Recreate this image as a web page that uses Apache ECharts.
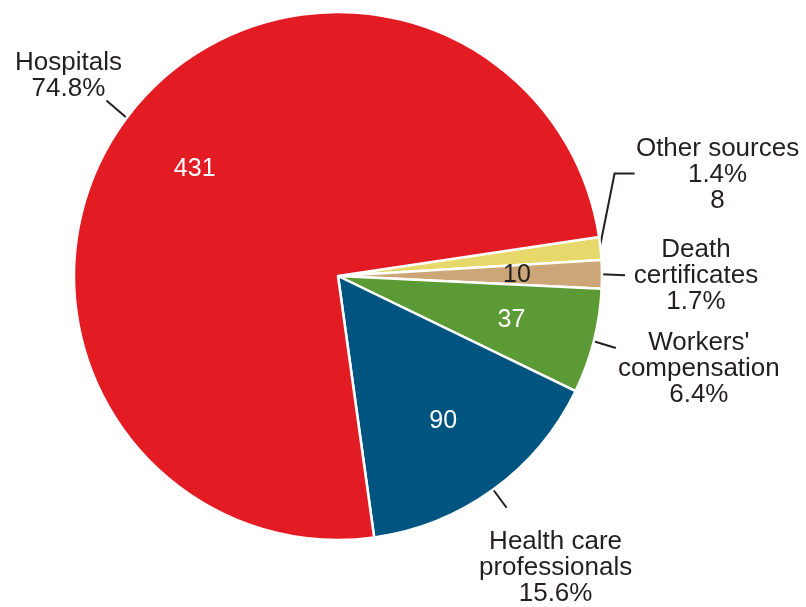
<!DOCTYPE html>
<html>
<head>
<meta charset="utf-8">
<script src="https://cdn.jsdelivr.net/npm/echarts@6/dist/echarts.min.js"></script>
<style>
html,body{margin:0;padding:0;background:#fff;}
#chart{width:806px;height:607px;}
</style>
</head>
<body>
<div id="chart"></div>
<script>
// Data (clockwise order starting from the upper right)
const categories = ['Other sources', 'Death certificates', "Workers'\ncompensation", 'Health care\nprofessionals', 'Hospitals'];
const counts = [8, 10, 37, 90, 431];
const percentLabels = ['1.4%', '1.7%', '6.4%', '15.6%', '74.8%'];
const colors = ['#E6D86B', '#CDA677', '#5C9A35', '#005580', '#E31B23'];

// Label styling/layout (offsets relative to the slice's edge point)
const outsideNames = ['Other sources', 'Death\ncertificates', "Workers'\ncompensation", 'Health care\nprofessionals', 'Hospitals'];
const labelLayouts = [
  { line: [[15, -75], [35, -75]], center: [118, -74] },
  { line: [[24, 1]], center: [95, 2] },
  { line: [[23, 7]], center: [106, 28] },
  { line: [[14, 19]], center: [63, 79] },
  { line: [[-21, -18]], center: [-59, -43] }
];

const CX = 338, CY = 276, R = 264;
const total = counts.reduce((a, b) => a + b, 0);

const outerData = categories.map((c, i) => ({
  name: c,
  value: counts[i],
  itemStyle: { color: colors[i] }
}));

const innerData = categories.map((c, i) => ({
  name: c,
  value: counts[i],
  label: {
    show: i !== 0,
    color: i === 1 ? '#231F20' : '#FFFFFF'
  }
}));

const chart = echarts.init(document.getElementById('chart'), null, { renderer: 'canvas' });

chart.setOption({
  backgroundColor: '#FFFFFF',
  animation: false,
  series: [
    {
      type: 'pie',
      center: [CX, CY],
      radius: R,
      startAngle: 8.5,
      clockwise: true,
      data: outerData,
      itemStyle: { borderColor: '#FFFFFF', borderWidth: 2.5 },
      label: {
        show: true,
        position: 'outside',
        overflow: 'none',
        alignTo: 'none',
        fontFamily: 'Liberation Sans, Arial, Helvetica, sans-serif',
        fontSize: 26,
        lineHeight: 26,
        color: '#231F20',
        formatter: function (p) {
          const i = p.dataIndex;
          let s = outsideNames[i] + '\n' + percentLabels[i];
          if (i === 0) s += '\n' + counts[i];
          return s;
        }
      },
      labelLine: {
        show: true,
        length: 20,
        length2: 10,
        lineStyle: { color: '#231F20', width: 2 }
      },
      labelLayout: function (params) {
        const i = params.dataIndex;
        const cfg = labelLayouts[i];
        let acc = 0;
        for (let k = 0; k < i; k++) acc += counts[k];
        const mid = (8.5 - (acc + counts[i] / 2) / total * 360) * Math.PI / 180;
        const p0 = [CX + (R - 1) * Math.cos(mid), CY - (R - 1) * Math.sin(mid)];
        const pts = [[p0[0], p0[1]]].concat(cfg.line.map(d => [p0[0] + d[0], p0[1] + d[1]]));
        return {
          x: p0[0] + cfg.center[0],
          y: p0[1] + cfg.center[1],
          width: 240,
          align: 'center',
          verticalAlign: 'middle',
          labelLinePoints: pts
        };
      },
      emphasis: { disabled: true }
    },
    {
      type: 'pie',
      center: [CX, CY],
      radius: [88, R],
      startAngle: 8.5,
      clockwise: true,
      silent: true,
      data: innerData,
      itemStyle: { color: 'rgba(0,0,0,0)', borderWidth: 0 },
      label: {
        position: 'inside',
        fontFamily: 'Liberation Sans, Arial, Helvetica, sans-serif',
        fontSize: 25,
        formatter: function (p) { return String(counts[p.dataIndex]); }
      },
      labelLine: { show: false },
      emphasis: { disabled: true }
    }
  ]
});
</script>
</body>
</html>
